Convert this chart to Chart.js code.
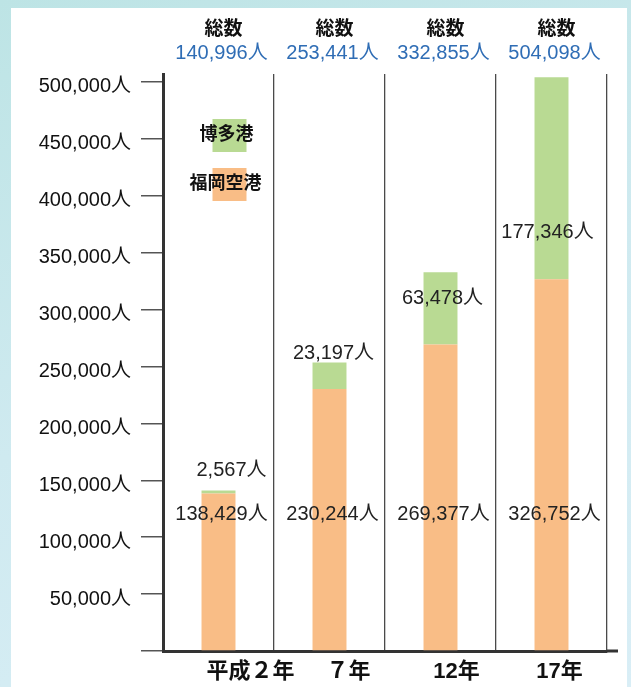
<!DOCTYPE html>
<html lang="ja">
<head>
<meta charset="utf-8">
<script src="https://cdn.jsdelivr.net/npm/chart.js@4.4.1/dist/chart.umd.min.js"></script>
<style>
    html, body { margin: 0; padding: 0; }
    body {
        width: 631px;
        height: 687px;
        overflow: hidden;
        background: linear-gradient(160deg, #bde4e5 0%, #cfeaf0 50%, #d9eef6 100%);
        position: relative;
    }
    .panel {
        position: absolute;
        left: 11px;
        top: 8px;
        width: 616px;
        height: 679px;
        background: #fff;
    }
    canvas { position: absolute; left: 0; top: 0; }
</style>
</head>
<body>
<div class="panel"></div>
<canvas id="airportChart" width="631" height="687"></canvas>
<script>
// --- DATA ---
const years = ['平成２年', '７年', '12年', '17年'];
const fukuokaAirport = [138429, 230244, 269377, 326752]; // 福岡空港
const hakataPort = [2567, 23197, 63478, 177346];         // 博多港
const totals = [140996, 253441, 332855, 504098];         // 総数
const yTickValues = [0, 50000, 100000, 150000, 200000, 250000, 300000, 350000, 400000, 450000, 500000];

const FONT = "'Liberation Sans', 'Noto Sans CJK JP', sans-serif";
const ORANGE = '#f9bd86';
const GREEN = '#b9da93';

const fmt = v => v.toLocaleString('en-US') + '人';

// label placement (axis units / pixel shifts), kept apart from the data
const airportLabelAt = 120000;
const portLabelAt = [159000, 261000, 310000, 368000];
const portLabelShift = [13, 4, 2, -4];
const yearLabelShift = [32, 19, 16, 8];

// --- CUSTOM TEXT: headers, value labels, legend, x labels ---
const labelPlugin = {
    id: 'labelPlugin',
    afterDatasetsDraw(chart) {
        const { ctx, chartArea, scales: { x, y } } = chart;
        ctx.save();
        ctx.textAlign = 'center';
        ctx.textBaseline = 'middle';

        years.forEach((yr, i) => {
            const cx = x.getPixelForValue(i);

            ctx.font = 'bold 19px ' + FONT;
            ctx.fillStyle = '#111';
            ctx.fillText('総数', cx + 5, chartArea.top - 44);

            ctx.font = '20px ' + FONT;
            ctx.fillStyle = '#2f6db5';
            ctx.fillText(fmt(totals[i]), cx + 3, chartArea.top - 21);

            ctx.fillStyle = '#222';
            ctx.fillText(fmt(fukuokaAirport[i]), cx + 3, y.getPixelForValue(airportLabelAt));
            ctx.fillText(fmt(hakataPort[i]), cx + portLabelShift[i], y.getPixelForValue(portLabelAt[i]));

            ctx.font = 'bold 22px ' + FONT;
            ctx.fillStyle = '#111';
            ctx.fillText(yr, cx + yearLabelShift[i], chartArea.bottom + 21);
        });

        // legend boxes in the first column
        const lx = x.getPixelForValue(0) - 6;
        ctx.fillStyle = GREEN;
        ctx.fillRect(lx, chartArea.top + 45, 34, 33);
        ctx.fillStyle = ORANGE;
        ctx.fillRect(lx, chartArea.top + 94, 34, 33);
        ctx.font = 'bold 18px ' + FONT;
        ctx.fillStyle = '#111';
        ctx.fillText('博多港', lx + 14, chartArea.top + 61);
        ctx.fillText('福岡空港', lx + 13, chartArea.top + 110);

        // x axis line runs a little past the last column
        ctx.strokeStyle = '#333';
        ctx.lineWidth = 3;
        ctx.beginPath();
        ctx.moveTo(chartArea.right, chartArea.bottom);
        ctx.lineTo(chartArea.right + 11, chartArea.bottom);
        ctx.stroke();

        ctx.restore();
    }
};

const ctx = document.getElementById('airportChart').getContext('2d');
new Chart(ctx, {
    type: 'bar',
    data: {
        labels: years,
        datasets: [
            {
                label: '福岡空港',
                data: fukuokaAirport,
                backgroundColor: ORANGE,
                borderWidth: 0
            },
            {
                label: '博多港',
                data: hakataPort,
                backgroundColor: GREEN,
                borderWidth: 0
            }
        ]
    },
    options: {
        responsive: false,
        devicePixelRatio: 1,
        animation: false,
        layout: { padding: { top: 74, right: 24, left: 0, bottom: 0 } },
        datasets: {
            bar: { categoryPercentage: 1, barPercentage: 0.306 }
        },
        plugins: {
            legend: { display: false },
            tooltip: { enabled: false }
        },
        scales: {
            x: {
                stacked: true,
                grid: { offset: true, color: '#4a4a4a', lineWidth: 1.3, drawTicks: false },
                border: { color: '#333', width: 3 },
                ticks: { display: false },
                afterFit: s => { s.height = 36; }
            },
            y: {
                stacked: true,
                min: 0,
                max: 507000,
                grid: { drawOnChartArea: false, color: '#555', lineWidth: 1.5, tickLength: 22 },
                border: { color: '#333', width: 3 },
                ticks: {
                    padding: 10,
                    labelOffset: 5,
                    color: '#111',
                    font: { family: FONT, size: 20 },
                    callback: v => v === 0 ? '' : fmt(v)
                },
                afterBuildTicks: s => { s.ticks = yTickValues.map(v => ({ value: v })); },
                afterFit: s => { s.width = 163; }
            }
        }
    },
    plugins: [labelPlugin]
});
</script>
</body>
</html>
